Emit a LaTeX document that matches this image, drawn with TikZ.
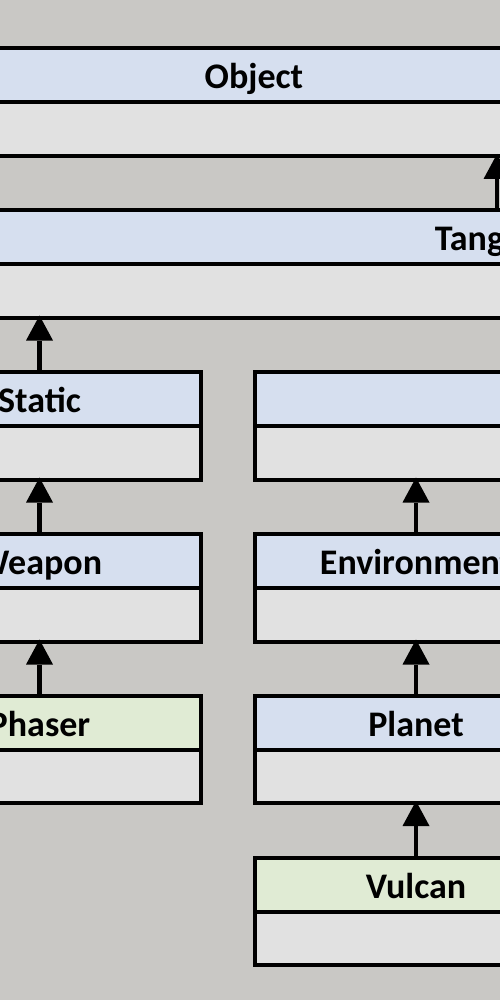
\documentclass[tikz,border=0pt]{standalone}
\usepackage{fontspec}
\setmainfont{Carlito}
\usetikzlibrary{positioning,arrows.meta}
\definecolor{backgr}{HTML}{C9C8C5}
\definecolor{headblue}{HTML}{D6DFEF}
\definecolor{headgreen}{HTML}{E0EBD4}
\definecolor{bodygray}{HTML}{E1E1E1}
\begin{document}
\begin{tikzpicture}[x=1pt,y=-1pt,line join=miter,
	box/.style={draw,line width=4pt,outer sep=0pt,inner sep=0pt,minimum width=#1},
	box/.default=322pt,
	head/.style={box=#1,fill=headblue,anchor=north,minimum height=54pt,text height=30pt,text depth=3pt,font=\fontsize{36}{40}\selectfont\bfseries},
	head/.default=322pt,
	leaf/.style={head=#1,fill=headgreen},
	leaf/.default=322pt,
	body/.style={box=#1,fill=bodygray,minimum height=53.5pt},
	body/.default=322pt,
	isa/.style={-{Triangle[width=27pt,length=25pt,line width=0pt]},line width=4.5pt,shorten >=-2pt}]
	\def\xmax{500} \def\ymax{1000}
	\def\lx{39.5} \def\rx{416}
	\useasboundingbox (0,0) rectangle (\xmax,\ymax);
	\fill[backgr] (0,0) rectangle (\xmax,\ymax);
	\clip (0,0) rectangle (\xmax,\ymax);
	% top classes
	\node[head=700pt] (objhead) at (254,48.5) {Object};
	\node[body=700pt,below=0pt of objhead] (objbody) {};
	\node[head=1000pt] (tanghead) at (497,210) {Tangible};
	\node[body=1000pt,below=0pt of tanghead] (tangbody) {};
	% left column
	\node[head] (stathead) at (\lx,372) {Static};
	\node[body,below=0pt of stathead] (statbody) {};
	\node[head] (weaphead) at (\lx,534) {Weapon};
	\node[body,below=0pt of weaphead] (weapbody) {};
	\node[leaf] (phashead) at (\lx,695.5) {Phaser};
	\node[body,below=0pt of phashead] (phasbody) {};
	% right column
	\node[head] (blankhead) at (\rx,372) {};
	\node[body,below=0pt of blankhead] (blankbody) {};
	\node[head] (envhead) at (\rx,534) {Environment};
	\node[body,below=0pt of envhead] (envbody) {};
	\node[head] (planhead) at (\rx,695.5) {Planet};
	\node[body,below=0pt of planhead] (planbody) {};
	\node[leaf] (vulchead) at (\rx,857.5) {Vulcan};
	\node[body,below=0pt of vulchead] (vulcbody) {};
	% inheritance
	\draw[isa] (tanghead.north) -- (tanghead.north |- objbody.south);
	\draw[isa] (stathead.north) -- (stathead.north |- tangbody.south);
	\draw[isa] (weaphead.north) -- (statbody.south);
	\draw[isa] (phashead.north) -- (weapbody.south);
	\draw[isa] (envhead.north) -- (blankbody.south);
	\draw[isa] (planhead.north) -- (envbody.south);
	\draw[isa] (vulchead.north) -- (planbody.south);
\end{tikzpicture}
\end{document}
